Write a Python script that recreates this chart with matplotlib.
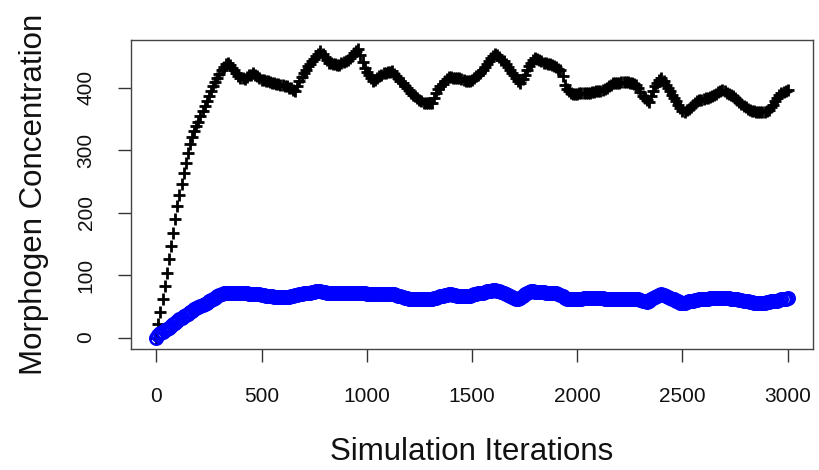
import numpy as np
import matplotlib
matplotlib.use("Agg")
import matplotlib.pyplot as plt

# Simulation iterations (sampled every 10 iterations)
iterations = np.arange(0, 3001, 10)

# Black '+' series
black_values = [
    0, 21, 41, 61, 82, 104, 125, 146, 168, 189,
    210, 228, 246, 264, 280, 295, 310, 321, 330, 338,
    345, 354, 362, 370, 378, 387, 395, 402, 409, 416,
    422, 428, 433, 438, 440, 436, 432, 428, 424, 419,
    416, 415, 414, 417, 420, 421, 423, 421, 418, 415,
    413, 412, 411, 410, 409, 408, 407, 406, 406, 405,
    404, 403, 402, 400, 399, 397, 395, 402, 410, 417,
    424, 429, 434, 438, 442, 446, 450, 454, 458, 454,
    449, 445, 440, 439, 438, 438, 437, 437, 439, 441,
    443, 445, 447, 451, 455, 458, 462, 452, 441, 431,
    425, 420, 415, 410, 413, 416, 418, 421, 423, 424,
    425, 425, 426, 422, 418, 415, 411, 407, 403, 400,
    396, 392, 389, 386, 383, 380, 378, 375, 375, 376,
    376, 376, 383, 391, 398, 402, 406, 410, 414, 417,
    417, 416, 416, 415, 415, 414, 412, 411, 410, 411,
    412, 415, 418, 420, 423, 428, 433, 438, 443, 447,
    450, 454, 453, 449, 445, 442, 438, 433, 429, 424,
    420, 416, 411, 407, 414, 421, 428, 434, 440, 445,
    448, 446, 444, 442, 440, 439, 438, 438, 437, 435,
    433, 430, 428, 418, 404, 398, 394, 391, 390, 390,
    390, 391, 391, 391, 391, 392, 392, 393, 393, 394,
    395, 395, 396, 398, 400, 403, 405, 407, 408, 408,
    408, 409, 409, 409, 409, 408, 407, 406, 404, 400,
    393, 387, 383, 380, 377, 386, 395, 403, 408, 412,
    416, 411, 405, 400, 394, 389, 383, 378, 373, 367,
    362, 361, 364, 366, 369, 372, 375, 378, 380, 381,
    382, 383, 384, 385, 386, 388, 390, 393, 395, 397,
    395, 392, 390, 388, 386, 383, 380, 377, 374, 371,
    369, 366, 364, 362, 362, 361, 361, 361, 361, 361,
    362, 365, 369, 372, 378, 384, 389, 391, 393, 394,
    396,
]

# Blue 'o' series
blue_values = [
    0, 4, 7, 9, 12, 14, 16, 19, 21, 24,
    27, 29, 31, 34, 36, 38, 41, 43, 45, 47,
    49, 51, 52, 54, 56, 58, 60, 62, 64, 66,
    68, 70, 71, 72, 72, 72, 72, 72, 71, 71,
    71, 71, 71, 71, 70, 70, 70, 70, 69, 69,
    68, 68, 67, 67, 66, 66, 65, 65, 65, 65,
    65, 65, 65, 65, 66, 67, 68, 68, 69, 70,
    71, 71, 72, 72, 73, 73, 74, 74, 74, 73,
    73, 72, 72, 72, 71, 71, 71, 71, 71, 71,
    71, 71, 71, 71, 72, 72, 72, 72, 72, 71,
    70, 70, 69, 69, 69, 70, 70, 70, 70, 70,
    70, 70, 70, 69, 68, 67, 66, 65, 64, 63,
    62, 61, 61, 61, 61, 61, 61, 61, 62, 62,
    62, 62, 63, 64, 65, 66, 67, 68, 68, 69,
    69, 68, 68, 67, 67, 66, 66, 66, 66, 67,
    68, 69, 70, 71, 72, 72, 73, 74, 75, 75,
    76, 76, 75, 74, 73, 71, 70, 68, 67, 65,
    64, 62, 61, 64, 67, 70, 72, 73, 74, 74,
    73, 73, 73, 73, 73, 72, 72, 72, 72, 72,
    71, 70, 68, 66, 63, 61, 61, 61, 61, 62,
    62, 62, 62, 63, 63, 63, 63, 63, 63, 63,
    63, 63, 63, 62, 62, 62, 62, 62, 62, 62,
    62, 62, 62, 62, 62, 62, 62, 62, 62, 61,
    60, 59, 58, 57, 59, 61, 63, 65, 67, 68,
    69, 68, 66, 65, 64, 62, 61, 59, 58, 56,
    55, 56, 57, 58, 58, 59, 60, 60, 61, 61,
    62, 62, 62, 63, 63, 63, 63, 64, 64, 64,
    64, 64, 63, 62, 62, 61, 61, 60, 60, 59,
    59, 58, 57, 57, 56, 56, 55, 55, 56, 56,
    57, 57, 58, 58, 59, 59, 60, 61, 61, 62,
    63,
]

x_ticks = [0, 500, 1000, 1500, 2000, 2500, 3000]
y_ticks = [0, 100, 200, 300, 400]
x_label = "Simulation Iterations"
y_label = "Morphogen Concentration"

assert len(black_values) == len(iterations) == len(blue_values)

plt.rcParams['font.family'] = ['Liberation Sans', 'DejaVu Sans']

W, H = 819, 470
fig = plt.figure(figsize=(W / 100, H / 100), dpi=100)
left, right, top, bottom = 131, 813, 40, 349
ax = fig.add_axes([left / W, 1 - bottom / H, (right - left) / W, (bottom - top) / H])

ax.plot(iterations, black_values, linestyle='none', marker='+',
        markersize=9, markeredgewidth=2.0, color='black', zorder=2)
ax.plot(iterations, blue_values, linestyle='none', marker='o',
        markersize=9, markeredgewidth=1.8, markerfacecolor='none',
        markeredgecolor='#0000ff', zorder=3)

ax.set_xlim(-120, 3120)
ax.set_ylim(-18.3, 476.3)
ax.set_xticks(x_ticks)
ax.set_yticks(y_ticks)
ax.set_xticklabels([str(v) for v in x_ticks], fontsize=15)
ax.set_yticklabels([str(v) for v in y_ticks], fontsize=15, rotation=90, va='center')
ax.tick_params(axis='both', direction='out', length=9.5, width=1, color='#333333',
               labelcolor='#111111')
ax.tick_params(axis='x', pad=18)
ax.tick_params(axis='y', pad=16)
for sp in ax.spines.values():
    sp.set_color('#444444')
    sp.set_linewidth(1.0)

ax.set_xlabel(x_label, fontsize=22.5, labelpad=22, color='#111111')
ax.set_ylabel(y_label, fontsize=22.5, labelpad=20, color='#111111')

fig.savefig("out.png", dpi=100)
